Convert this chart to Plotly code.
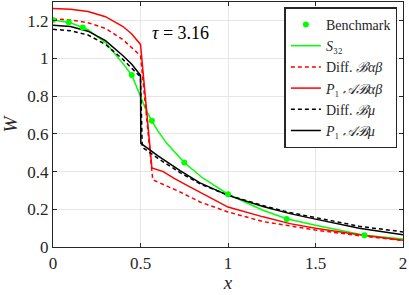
import plotly.graph_objects as go

# ---- data ----
bench_x = [0, 0.09, 0.17, 0.45, 0.565, 0.75, 1.0, 1.335, 1.78]
bench_y = [1.205, 1.192, 1.165, 0.913, 0.67, 0.448, 0.28, 0.148, 0.062]

s32_x = [0, 0.1, 0.2, 0.3, 0.4, 0.45, 0.5, 0.53, 0.565, 0.6, 0.65, 0.75, 0.85, 1.0, 1.2, 1.335, 1.5, 1.78, 2.0]
s32_y = [1.205, 1.19, 1.153, 1.085, 0.973, 0.912, 0.80, 0.73, 0.668, 0.615, 0.55, 0.448, 0.37, 0.28, 0.195, 0.15, 0.115, 0.062, 0.042]

diffab_x = [0, 0.1, 0.2, 0.3, 0.4, 0.45, 0.5, 0.57, 0.65, 0.726, 0.84, 1.0, 1.2, 1.354, 1.5, 1.75, 2.0]
diffab_y = [1.21, 1.205, 1.19, 1.16, 1.10, 1.06, 1.015, 0.357, 0.325, 0.292, 0.239, 0.186, 0.135, 0.11, 0.09, 0.06, 0.035]

p1ab_x = [0, 0.1, 0.2, 0.3, 0.4, 0.45, 0.5, 0.565, 0.63, 0.69, 0.75, 0.84, 1.0, 1.2, 1.354, 1.5, 1.75, 2.0]
p1ab_y = [1.266, 1.262, 1.25, 1.222, 1.17, 1.13, 1.075, 0.42, 0.40, 0.365, 0.335, 0.29, 0.212, 0.16, 0.124, 0.1, 0.065, 0.036]

diffmu_x = [0, 0.1, 0.2, 0.3, 0.4, 0.45, 0.5, 0.51, 0.6, 0.726, 0.84, 1.0, 1.2, 1.354, 1.5, 1.75, 2.0]
diffmu_y = [1.155, 1.148, 1.125, 1.075, 0.995, 0.95, 0.902, 0.53, 0.47, 0.395, 0.335, 0.275, 0.22, 0.183, 0.155, 0.11, 0.08]

p1mu_x = [0, 0.1, 0.2, 0.3, 0.4, 0.45, 0.5, 0.502, 0.6, 0.726, 0.84, 1.0, 1.2, 1.354, 1.5, 1.75, 2.0]
p1mu_y = [1.177, 1.17, 1.145, 1.095, 1.015, 0.97, 0.911, 0.55, 0.484, 0.405, 0.34, 0.274, 0.215, 0.177, 0.148, 0.1, 0.065]

x_ticks = [0, 0.5, 1, 1.5, 2]
x_tick_labels = ["0", "0.5", "1", "1.5", "2"]
y_ticks = [0, 0.2, 0.4, 0.6, 0.8, 1.0, 1.2]
y_tick_labels = ["0", "0.2", "0.4", "0.6", "0.8", "1", "1.2"]

FONT = "Liberation Serif, Times New Roman, serif"
AX = "#262626"
DASH = "4px,3px"

fig = go.Figure()
fig.add_trace(go.Scatter(x=s32_x, y=s32_y, mode="lines", name="<i>S</i>₃₂",
                         line=dict(color="#00ff00", width=1.5), legendrank=2))
fig.add_trace(go.Scatter(x=diffab_x, y=diffab_y, mode="lines", name="Diff. <i>ℬαβ</i>",
                         line=dict(color="#ff0000", width=1.5, dash=DASH), legendrank=3))
fig.add_trace(go.Scatter(x=p1ab_x, y=p1ab_y, mode="lines", name="<i>P</i>₁ <i>𝒜ℬαβ</i>",
                         line=dict(color="#ff0000", width=1.5), legendrank=4))
fig.add_trace(go.Scatter(x=diffmu_x, y=diffmu_y, mode="lines", name="Diff. <i>ℬμ</i>",
                         line=dict(color="#000000", width=1.5, dash=DASH), legendrank=5))
fig.add_trace(go.Scatter(x=p1mu_x, y=p1mu_y, mode="lines", name="<i>P</i>₁ <i>𝒜ℬμ</i>",
                         line=dict(color="#000000", width=1.5), legendrank=6))
fig.add_trace(go.Scatter(x=bench_x, y=bench_y, mode="markers", name="Benchmark",
                         marker=dict(color="#00ff00", size=6), legendrank=1))

fig.add_annotation(x=0.73, y=1.134, text="<i>τ</i> = 3.16", showarrow=False,
                   font=dict(family=FONT, size=18, color="#000000"))

fig.update_layout(
    width=409, height=295,
    margin=dict(l=53, r=6, t=2, b=48, autoexpand=False),
    paper_bgcolor="white", plot_bgcolor="white",
    font=dict(family=FONT, size=17, color=AX),
    showlegend=True,
    legend=dict(x=0.984, y=0.978, xanchor="right", yanchor="top",
                bgcolor="white", bordercolor=AX, borderwidth=1.5,
                font=dict(family=FONT, size=14, color=AX),
                tracegroupgap=0, itemwidth=30),
    xaxis=dict(range=[0, 2], tickvals=x_ticks, ticktext=x_tick_labels,
               showgrid=True, gridcolor="#e6e6e6", gridwidth=1,
               showline=True, linecolor=AX, linewidth=1.2, mirror="ticks",
               ticks="inside", ticklen=4, tickcolor=AX, zeroline=False,
               automargin=False,
               title=dict(text="<i>x</i>", standoff=2, font=dict(size=19))),
    yaxis=dict(range=[0, 1.3], tickvals=y_ticks, ticktext=y_tick_labels,
               showgrid=True, gridcolor="#e6e6e6", gridwidth=1,
               showline=True, linecolor=AX, linewidth=1.2, mirror="ticks",
               ticks="inside", ticklen=4, tickcolor=AX, zeroline=False,
               automargin=False,
               title=dict(text="<i>W</i>", standoff=4, font=dict(size=19))),
)

fig.write_html("out.html", config={"displayModeBar": False},
               post_script="document.body.style.margin='0';")
